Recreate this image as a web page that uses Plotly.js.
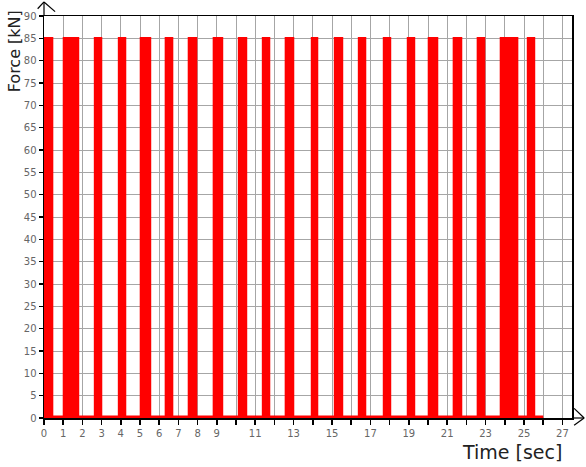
<!DOCTYPE html>
<html>
<head>
<meta charset="utf-8">
<script src="https://cdn.plot.ly/plotly-3.0.1.min.js"></script>
<style>html,body{margin:0;padding:0;background:#fff;}#chart{width:586px;height:467px;}</style>
</head>
<body>
<div id="chart"></div>
<script>
// Pulse start / end times (sec)
var pulseStart = [0.00, 1.04, 2.66, 3.91, 5.05, 6.35, 7.55, 8.85, 10.16, 11.41, 12.60, 13.96, 15.16, 16.41, 17.71, 18.96, 20.05, 21.35, 22.60, 23.80, 25.21];
var pulseEnd   = [0.42, 1.77, 2.97, 4.22, 5.52, 6.67, 7.92, 9.27, 10.52, 11.72, 12.97, 14.22, 15.52, 16.72, 18.02, 19.27, 20.47, 21.72, 22.92, 24.64, 25.52];
var pulseForce = 85;      // kN
var recordEnd = 26.0;     // sec
var xTickVals = [0,1,2,3,4,5,6,7,8,9,10,11,12,13,14,15,16,17,18,19,20,21,22,23,24,25,26,27];
var xTickText = ['0','1','2','3','4','5','6','7','8','9','','11','','13','','15','','17','','19','','21','','23','','25','','27'];

var xs = [], ys = [];
for (var i = 0; i < pulseStart.length; i++) {
  xs.push(pulseStart[i], pulseStart[i], pulseEnd[i], pulseEnd[i]);
  ys.push(0, pulseForce, pulseForce, 0);
}
xs.push(recordEnd); ys.push(0);

var trace = {
  x: xs, y: ys, type: 'scatter', mode: 'lines',
  fill: 'tozeroy', fillcolor: '#ff0000',
  line: {color: '#ff0000', width: 2.5},
  hoverinfo: 'skip'
};
// zero-force baseline of the record, drawn thicker as in the reference
var baseline = {
  x: [0, recordEnd], y: [0, 0], type: 'scatter', mode: 'lines',
  line: {color: '#ff0000', width: 5}, hoverinfo: 'skip'
};

var tickFont = {family: 'DejaVu Sans, Verdana, sans-serif', size: 10, color: '#666'};
var layout = {
  width: 586, height: 467,
  margin: {l: 44, r: 14, t: 16, b: 49},
  paper_bgcolor: '#fff', plot_bgcolor: '#fff',
  showlegend: false,
  xaxis: {
    range: [0, 27.5], tickvals: xTickVals, ticktext: xTickText,
    showgrid: true, gridcolor: '#a6a6a6', gridwidth: 1,
    showline: true, linecolor: '#000', linewidth: 1.5, mirror: true,
    ticks: 'outside', ticklen: 5, tickcolor: '#000', tickwidth: 1.5,
    tickfont: tickFont, zeroline: false, layer: 'below traces'
  },
  yaxis: {
    range: [0, 90], dtick: 5, tick0: 0,
    showgrid: true, gridcolor: '#a6a6a6', gridwidth: 1,
    showline: true, linecolor: '#000', linewidth: 1.5, mirror: true,
    ticks: 'outside', ticklen: 4, tickcolor: '#000', tickwidth: 1.5,
    tickfont: tickFont, zeroline: false, layer: 'below traces'
  },
  annotations: [
    {text: 'Force [kN]', xref: 'paper', yref: 'paper', x: -0.057, y: 0.912,
     textangle: -90, showarrow: false, xanchor: 'center', yanchor: 'middle',
     font: {family: 'DejaVu Sans, Verdana, sans-serif', size: 16, color: '#222'}},
    {text: 'Time [sec]', xref: 'paper', yref: 'paper', x: 0.886, y: -0.085,
     showarrow: false, xanchor: 'center', yanchor: 'middle',
     font: {family: 'DejaVu Sans, Verdana, sans-serif', size: 19, color: '#222'}}
  ],
  shapes: [
    // y-axis arrow
    {type: 'line', xref: 'paper', yref: 'paper', x0: 0, y0: 1, x1: 0, y1: 1.035, line: {color: '#000', width: 1.2}},
    {type: 'line', xref: 'paper', yref: 'paper', x0: -0.012, y0: 1.018, x1: 0, y1: 1.035, line: {color: '#000', width: 1.2}},
    {type: 'line', xref: 'paper', yref: 'paper', x0: 0.021, y0: 1.011, x1: 0, y1: 1.035, line: {color: '#000', width: 1.2}},
    // x-axis arrow
    {type: 'line', xref: 'paper', yref: 'paper', x0: 1, y0: 0, x1: 1.023, y1: 0, line: {color: '#000', width: 1.2}},
    {type: 'line', xref: 'paper', yref: 'paper', x0: 1.004, y0: 0.024, x1: 1.023, y1: 0, line: {color: '#000', width: 1.2}},
    {type: 'line', xref: 'paper', yref: 'paper', x0: 1.004, y0: -0.018, x1: 1.023, y1: 0, line: {color: '#000', width: 1.2}}
  ]
};

Plotly.newPlot('chart', [trace, baseline], layout, {staticPlot: true, displayModeBar: false});
</script>
</body>
</html>
